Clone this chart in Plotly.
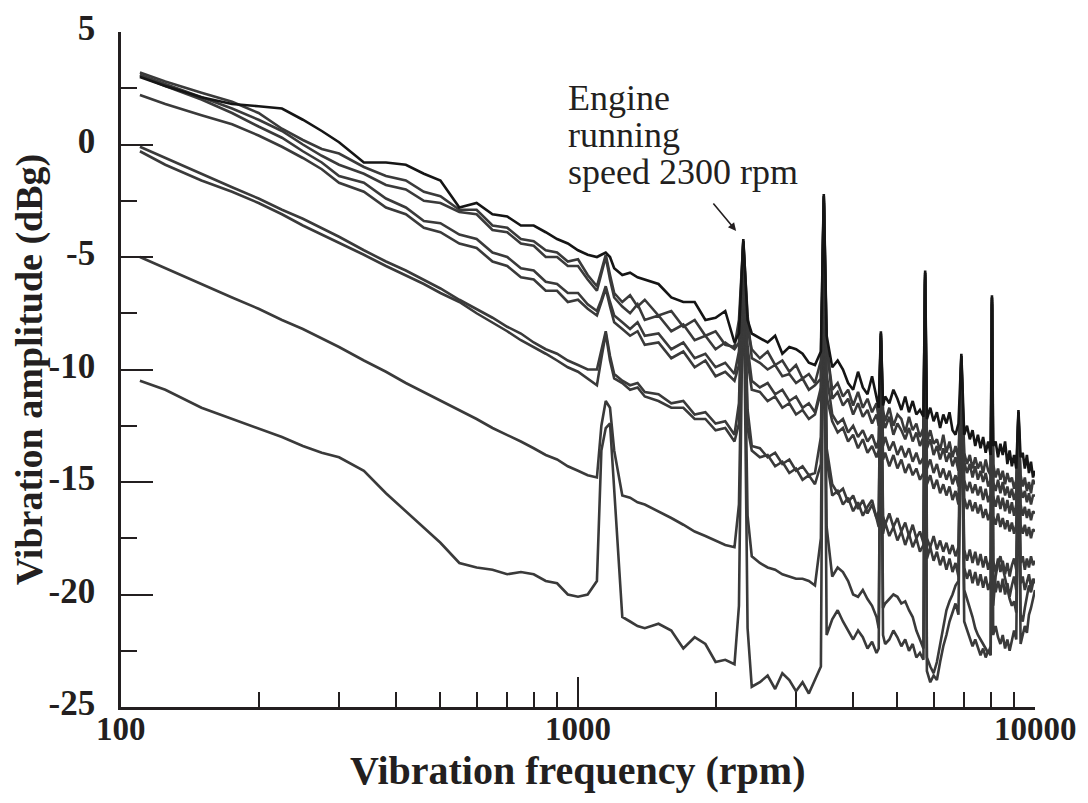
import math
import plotly.graph_objects as go

# Frequency grid (rpm) shared by all traces
freq_rpm = [
    110, 125, 150, 175, 200, 225, 250, 275, 300, 340,
    380, 420, 460, 500, 550, 600, 650, 700, 750, 800,
    850, 900, 950, 1000, 1050, 1100, 1125, 1150, 1175, 1200,
    1250, 1300, 1350, 1400, 1500, 1600, 1700, 1800, 1900, 2000,
    2100, 2200, 2250, 2300, 2350, 2400, 2500, 2600, 2700, 2800,
    2900, 3000, 3100, 3200, 3300, 3400, 3450, 3500, 3600, 3700,
    3800, 3900, 4000, 4100, 4200, 4300, 4400, 4500, 4550, 4600,
    4650, 4700, 4800, 4900, 5000, 5100, 5200, 5300, 5400, 5500,
    5600, 5700, 5750, 5800, 5900, 6000, 6100, 6200, 6300, 6400,
    6500, 6600, 6700, 6800, 6900, 7000, 7100, 7200, 7300, 7400,
    7500, 7600, 7700, 7800, 7900, 8000, 8050, 8100, 8200, 8300,
    8400, 8500, 8600, 8700, 8800, 8900, 9000, 9100, 9200, 9300,
    9400, 9500, 9600, 9700, 9800, 9900, 10000,
]

# Vibration amplitude (dBg), one list per measurement
amp_a = [
    3.0, 2.6, 2.1, 1.8, 1.7, 1.6, 1.1, 0.6, 0.1, -0.8,
    -0.8, -0.9, -1.3, -1.6, -2.8, -2.6, -3.1, -3.2, -3.6, -3.6,
    -3.9, -4.2, -4.4, -4.7, -4.9, -5.0, -4.9, -4.8, -5.0, -5.5,
    -5.8, -5.7, -5.9, -6.0, -6.2, -6.8, -7.0, -7.0, -7.8, -7.7,
    -7.4, -8.8, -8.4, -4.2, -7.8, -8.4, -8.6, -8.8, -8.5, -9.3,
    -9.0, -9.1, -9.3, -9.7, -9.8, -9.2, -2.2, -8.5, -9.9, -9.6,
    -10.0, -10.6, -10.9, -10.1, -10.8, -11.1, -10.3, -11.3, -11.7, -8.3,
    -11.6, -11.2, -11.5, -10.9, -11.3, -11.8, -11.2, -11.9, -11.4, -12.0,
    -11.8, -12.1, -5.6, -12.2, -11.7, -12.3, -11.9, -12.6, -12.0, -12.4,
    -11.9, -12.7, -12.9, -12.4, -9.3, -12.9, -12.5, -13.1, -12.7, -13.4,
    -12.9, -13.5, -13.0, -13.7, -13.2, -13.8, -6.7, -13.4, -13.2, -13.9,
    -13.3, -13.8, -13.2, -14.2, -13.6, -14.3, -13.8, -14.4, -11.8, -13.9,
    -13.7, -14.4, -13.8, -14.6, -14.1, -14.8, -14.5,
]
amp_b = [
    3.2, 2.8, 2.3, 1.9, 1.4, 0.7, 0.2, -0.2, -0.4, -1.0,
    -1.4, -1.6, -2.1, -2.3, -2.9, -2.9, -3.6, -3.7, -4.2, -4.3,
    -4.7, -4.8, -5.2, -5.1, -5.8, -6.3, -5.6, -4.9, -5.8, -6.6,
    -7.0, -6.7, -7.2, -6.9, -7.6, -7.4, -8.1, -7.8, -8.5, -8.3,
    -8.9, -9.0, -7.8, -4.3, -8.2, -9.1, -9.5, -9.2, -9.8, -9.6,
    -10.1, -9.8, -10.4, -10.2, -10.6, -9.6, -2.3, -9.0, -10.9, -10.6,
    -11.2, -10.9, -11.6, -11.0, -11.7, -11.3, -11.9, -11.5, -12.2, -8.4,
    -11.8, -12.3, -11.7, -12.5, -12.0, -12.2, -12.8, -12.1, -12.7, -12.4,
    -13.0, -12.6, -5.7, -13.2, -12.7, -13.3, -13.1, -13.6, -12.9, -13.7,
    -13.2, -13.9, -13.4, -14.0, -9.4, -13.7, -14.2, -13.8, -14.4, -13.9,
    -14.4, -14.1, -14.6, -14.0, -14.5, -14.7, -6.8, -14.2, -14.8, -14.4,
    -14.9, -14.5, -15.1, -14.6, -15.0, -14.8, -15.3, -14.9, -11.9, -14.7,
    -15.2, -14.8, -15.4, -15.0, -15.5, -14.9, -15.1,
]
amp_c = [
    3.1, 2.7, 2.1, 1.6, 1.1, 0.6, 0.0, -0.5, -0.9, -1.3,
    -1.8, -2.0, -2.5, -2.6, -3.0, -3.1, -3.8, -3.9, -4.4, -4.5,
    -5.0, -5.0, -5.4, -5.4, -6.0, -6.5, -5.8, -5.0, -6.0, -6.8,
    -7.2, -7.5, -7.1, -7.8, -7.6, -8.3, -8.0, -8.7, -8.5, -9.1,
    -8.8, -9.1, -8.8, -4.3, -7.6, -9.5, -9.7, -10.0, -9.8, -10.3,
    -10.2, -10.6, -10.4, -10.9, -10.7, -10.4, -2.3, -8.8, -11.3, -11.0,
    -11.6, -11.3, -12.0, -11.5, -12.1, -11.8, -12.4, -12.0, -12.5, -8.4,
    -12.2, -12.6, -12.1, -12.9, -12.4, -12.7, -13.1, -12.6, -13.2, -12.8,
    -13.4, -13.0, -5.7, -13.5, -13.1, -13.8, -13.4, -14.0, -13.5, -14.1,
    -13.7, -14.3, -13.9, -14.5, -9.4, -14.1, -14.6, -14.2, -14.8, -14.3,
    -14.9, -14.5, -15.0, -14.6, -15.2, -14.9, -6.8, -15.0, -15.4, -14.9,
    -15.5, -15.0, -15.6, -15.2, -15.7, -15.3, -15.8, -15.4, -11.9, -15.3,
    -15.7, -15.4, -15.9, -15.5, -16.0, -15.6, -15.6,
]
amp_d = [
    3.05, 2.6, 2.0, 1.4, 0.8, 0.3, -0.3, -0.8, -1.4, -1.7,
    -2.4, -2.8, -3.4, -3.5, -4.0, -4.2, -4.8, -5.0, -5.5, -5.6,
    -6.1, -6.2, -6.6, -6.6, -7.1, -7.4, -6.9, -6.3, -7.0, -7.6,
    -7.9, -8.2, -7.9, -8.5, -8.4, -9.1, -8.8, -9.5, -9.3, -9.9,
    -9.7, -10.2, -9.2, -4.4, -9.0, -10.5, -10.8, -10.6, -11.1, -10.9,
    -11.4, -11.2, -11.7, -11.5, -11.9, -10.8, -2.4, -10.2, -12.0, -12.4,
    -12.2, -12.8, -12.5, -13.0, -12.7, -13.2, -12.9, -13.5, -13.1, -8.5,
    -13.4, -13.0, -13.6, -13.2, -13.8, -13.4, -13.9, -13.5, -14.1, -13.7,
    -14.2, -13.9, -5.8, -14.4, -14.0, -14.6, -14.2, -14.8, -14.4, -14.9,
    -14.5, -15.1, -14.7, -15.2, -9.5, -14.9, -15.4, -15.0, -15.5, -15.1,
    -15.6, -15.2, -15.8, -15.3, -15.9, -15.5, -6.9, -15.6, -16.1, -15.6,
    -16.2, -15.7, -16.3, -15.8, -16.4, -15.9, -16.5, -16.0, -12.0, -16.0,
    -16.5, -16.1, -16.6, -16.2, -16.7, -16.3, -16.4,
]
amp_e = [
    2.2, 1.8, 1.3, 0.9, 0.4, -0.1, -0.6, -1.1, -1.7, -2.1,
    -2.8, -3.1, -3.7, -3.9, -4.4, -4.6, -5.2, -5.4, -5.9, -6.0,
    -6.5, -6.5, -7.0, -6.9, -7.3, -7.6, -7.0, -6.4, -7.2, -7.9,
    -8.2, -8.5, -8.3, -8.9, -8.8, -9.5, -9.2, -9.9, -9.6, -10.3,
    -10.1, -10.5, -9.8, -4.5, -9.6, -10.9, -11.0, -11.4, -11.2, -11.7,
    -11.5, -12.0, -11.8, -12.2, -12.0, -11.0, -2.5, -11.2, -12.3, -12.8,
    -12.6, -13.2, -12.9, -13.5, -13.1, -13.7, -13.4, -13.9, -13.6, -8.6,
    -14.0, -13.7, -14.3, -13.8, -14.4, -14.0, -14.6, -14.2, -14.7, -14.4,
    -14.9, -14.6, -5.9, -15.1, -14.7, -15.3, -14.9, -15.5, -15.1, -15.6,
    -15.2, -15.8, -15.4, -16.0, -9.6, -15.7, -16.2, -15.8, -16.3, -15.9,
    -16.4, -16.0, -16.6, -16.2, -16.7, -16.3, -7.0, -16.5, -16.9, -16.4,
    -17.0, -16.6, -17.1, -16.7, -17.2, -16.8, -17.3, -16.9, -12.1, -16.9,
    -17.3, -16.9, -17.4, -17.0, -17.5, -17.1, -17.2,
]
amp_f = [
    -0.1, -0.6, -1.3, -1.9, -2.4, -2.9, -3.3, -3.7, -4.1, -4.7,
    -5.2, -5.6, -6.0, -6.4, -6.9, -7.3, -7.7, -8.1, -8.4, -8.8,
    -9.1, -9.3, -9.6, -9.8, -10.0, -10.0, -9.2, -8.3, -9.4, -10.2,
    -10.5, -10.7, -10.6, -11.0, -11.1, -11.5, -11.4, -12.0, -11.9, -12.4,
    -12.3, -12.9, -11.5, -4.6, -11.8, -13.4, -13.5, -13.9, -13.7, -14.2,
    -14.0, -14.5, -14.3, -14.7, -14.6, -13.0, -2.6, -13.5, -15.1, -15.5,
    -15.3, -15.9, -15.6, -16.2, -15.8, -16.4, -16.0, -16.6, -16.3, -8.7,
    -16.5, -16.9, -16.4, -17.0, -16.6, -17.2, -16.8, -17.4, -16.9, -17.5,
    -17.2, -17.7, -6.0, -17.5, -17.9, -17.4, -18.0, -17.6, -18.1, -17.7,
    -18.2, -17.8, -18.3, -17.9, -9.7, -18.0, -18.5, -18.0, -18.6, -18.1,
    -18.7, -18.2, -18.8, -18.3, -18.9, -18.4, -7.1, -18.5, -19.0, -18.4,
    -19.0, -18.5, -19.1, -18.6, -19.2, -18.7, -18.4, -18.9, -12.2, -18.6,
    -18.3, -18.9, -18.4, -18.8, -18.3, -18.7, -18.5,
]
amp_g = [
    -0.3, -0.9, -1.6, -2.1, -2.6, -3.1, -3.6, -4.0, -4.4, -4.9,
    -5.4, -5.8, -6.2, -6.6, -7.0, -7.5, -7.9, -8.3, -8.7, -9.0,
    -9.3, -9.6, -9.9, -10.1, -10.4, -10.7, -9.5, -8.4, -9.6, -10.4,
    -10.6, -10.9, -10.8, -11.2, -11.4, -11.7, -11.7, -12.2, -12.2, -12.7,
    -12.6, -13.2, -12.4, -4.6, -12.6, -13.6, -13.9, -13.8, -14.3, -14.1,
    -14.6, -14.4, -14.9, -14.7, -15.1, -14.2, -2.6, -14.0, -15.6, -15.4,
    -16.0, -15.7, -16.3, -15.9, -16.5, -16.1, -15.8, -16.6, -17.0, -8.7,
    -17.3, -16.8, -17.4, -17.0, -17.6, -17.2, -17.8, -17.3, -17.9, -17.5,
    -18.1, -17.8, -6.0, -18.4, -17.9, -18.5, -18.1, -18.7, -18.3, -18.9,
    -18.4, -19.0, -18.6, -19.2, -9.7, -18.8, -19.3, -18.9, -19.5, -19.0,
    -19.6, -19.1, -19.7, -19.2, -19.8, -19.4, -7.1, -19.3, -19.9, -19.4,
    -19.9, -19.3, -20.0, -19.5, -20.1, -19.6, -19.2, -19.8, -12.2, -19.5,
    -19.2, -19.8, -19.4, -19.1, -19.7, -19.3, -19.5,
]
amp_h = [
    -5.0, -5.5, -6.2, -6.8, -7.3, -7.8, -8.2, -8.6, -9.0, -9.6,
    -10.1, -10.6, -11.0, -11.4, -11.8, -12.2, -12.6, -12.9, -13.2, -13.5,
    -13.8, -14.0, -14.3, -14.5, -14.7, -14.8, -12.5, -11.4, -11.7, -13.6,
    -15.6, -15.7, -15.9, -16.0, -16.3, -16.6, -16.9, -17.2, -17.4, -17.6,
    -17.8, -17.9, -16.0, -4.7, -16.5, -18.3, -18.6, -18.8, -18.9, -19.1,
    -19.2, -19.3, -19.3, -19.4, -19.6, -17.5, -2.7, -17.0, -19.2, -18.8,
    -19.0, -19.4, -20.0, -20.1, -19.8, -20.2, -20.5, -21.0, -21.5, -8.8,
    -20.6, -20.4, -20.2, -20.0, -20.1, -20.4, -20.3, -20.7, -21.0, -21.6,
    -22.0, -22.4, -6.1, -22.8, -23.2, -23.5, -23.0, -22.2, -21.4, -20.7,
    -20.3, -20.0, -19.6, -19.4, -9.8, -19.8, -20.2, -20.6, -21.0, -21.5,
    -21.8, -22.0, -22.2, -22.4, -22.6, -22.3, -7.2, -20.5, -19.2, -18.6,
    -18.3, -18.8, -19.3, -19.8, -20.2, -20.5, -20.3, -20.8, -12.3, -20.9,
    -21.2, -20.6, -20.0, -19.6, -19.9, -19.5, -19.3,
]
amp_i = [
    -10.5, -10.9, -11.7, -12.2, -12.6, -13.0, -13.4, -13.7, -13.9, -14.5,
    -15.5, -16.3, -17.0, -17.7, -18.6, -18.8, -18.9, -19.1, -19.0, -19.1,
    -19.4, -19.5, -20.0, -20.1, -20.0, -19.4, -13.6, -12.6, -12.4, -15.5,
    -21.0, -21.2, -21.4, -21.5, -21.3, -21.6, -22.4, -21.9, -22.2, -23.0,
    -22.9, -23.1, -20.5, -4.3, -21.5, -24.1, -23.9, -23.6, -24.2, -23.5,
    -23.8, -24.3, -23.9, -24.4, -23.8, -23.2, -2.8, -21.8, -21.1, -20.7,
    -21.2, -21.6, -22.0, -21.6, -21.9, -22.4, -22.1, -22.6, -22.4, -8.9,
    -21.8, -22.2, -22.0, -21.6, -21.9, -22.3, -22.0, -22.5, -22.2, -22.8,
    -22.6, -22.9, -6.2, -23.4, -23.9, -23.6, -23.8, -23.0, -22.3, -21.8,
    -21.2, -20.8, -20.4, -20.9, -9.9, -21.2, -21.6, -21.9, -22.3, -22.0,
    -22.4, -22.7, -22.4, -22.8, -22.5, -22.7, -7.3, -21.8, -21.4, -21.9,
    -22.2, -21.8, -22.4, -22.0, -22.5, -22.1, -21.6, -22.0, -12.4, -22.2,
    -21.8, -21.4, -21.7, -20.9, -20.6, -20.2, -19.8,
]

y_ticks = [5, 0, -5, -10, -15, -20, -25]
y_tick_text = ["5", "0", "-5", "-10", "-15", "-20", "-25"]
y_minor = [2.5, -2.5, -7.5, -12.5, -17.5, -22.5]
x_ticks = [100, 1000, 10000]
x_tick_text = ["100", "1000", "10000"]
x_minor = [200, 300, 400, 500, 600, 700, 800, 900,
           2000, 3000, 4000, 5000, 6000, 7000, 8000, 9000]

gray = "#3a3a3a"
ink = "#231f20"
serif = "Liberation Serif"

series = [amp_i, amp_h, amp_g, amp_f, amp_e, amp_d, amp_c, amp_b]

fig = go.Figure()
for vals in series:
    assert len(vals) == len(freq_rpm)
    fig.add_trace(go.Scatter(x=freq_rpm, y=vals, mode="lines",
                             line=dict(color=gray, width=2.6), showlegend=False))
assert len(amp_a) == len(freq_rpm)
fig.add_trace(go.Scatter(x=freq_rpm, y=amp_a, mode="lines",
                         line=dict(color="#151515", width=2.6), showlegend=False))

# page has an 8px body margin, so the figure is a bit smaller than the window
fig.update_layout(
    width=1072, height=787, autosize=False,
    margin=dict(l=113, r=45, t=24, b=88),
    paper_bgcolor="white", plot_bgcolor="white",
    font=dict(family=serif, color=ink),
)

fig.update_xaxes(
    type="log", range=[2, 4], showgrid=False, zeroline=False,
    showline=True, linecolor=ink, linewidth=2.5,
    ticks="inside", ticklen=30, tickwidth=2, tickcolor=ink,
    tickvals=x_ticks, showticklabels=False,
    minor=dict(tickvals=x_minor, ticks="inside", ticklen=15, tickwidth=2, tickcolor=ink),
    automargin=False,
)
fig.update_yaxes(
    range=[-25, 5], showgrid=False, zeroline=False,
    showline=True, linecolor=ink, linewidth=2.5,
    ticks="inside", ticklen=32, tickwidth=2, tickcolor=ink,
    tickvals=y_ticks, ticktext=["<b>%s</b>" % t for t in y_tick_text],
    ticklabelstandoff=16, ticklabelshift=-4,
    tickfont=dict(family=serif, size=35, color=ink),
    minor=dict(tickvals=y_minor, ticks="inside", ticklen=16, tickwidth=2, tickcolor=ink),
    title=dict(text="<b>Vibration amplitude (dBg)</b>", standoff=8,
               font=dict(family=serif, size=38, color=ink)),
    automargin=False,
)

# x tick labels placed close under the axis, as in the original
for v, t in zip(x_ticks, x_tick_text):
    fig.add_annotation(
        x=math.log10(v), y=0, xref="x", yref="paper", yanchor="middle",
        yshift=-22, text="<b>%s</b>" % t, showarrow=False,
        font=dict(family=serif, size=33, color=ink),
    )
fig.add_annotation(
    x=0.5, y=0, xref="paper", yref="paper", yanchor="bottom",
    yshift=-88, text="<b>Vibration frequency (rpm)</b>", showarrow=False,
    font=dict(family=serif, size=40, color=ink),
)

# Annotation text, one line each
note_lines = ["Engine", "running", "speed 2300 rpm"]
for k, line in enumerate(note_lines):
    fig.add_annotation(
        xref="paper", yref="paper", x=0.487, y=1.0, xanchor="left", yanchor="top",
        yshift=-44 - 37 * k, text=line, showarrow=False,
        font=dict(family=serif, size=36, color=ink),
    )

fig.add_annotation(
    x=3.346, y=-3.84, xref="x", yref="y", text="", showarrow=True,
    ax=-24, ay=-29, arrowhead=2, arrowsize=1, arrowwidth=1.6, arrowcolor=ink,
)

fig.write_html("out.html")
